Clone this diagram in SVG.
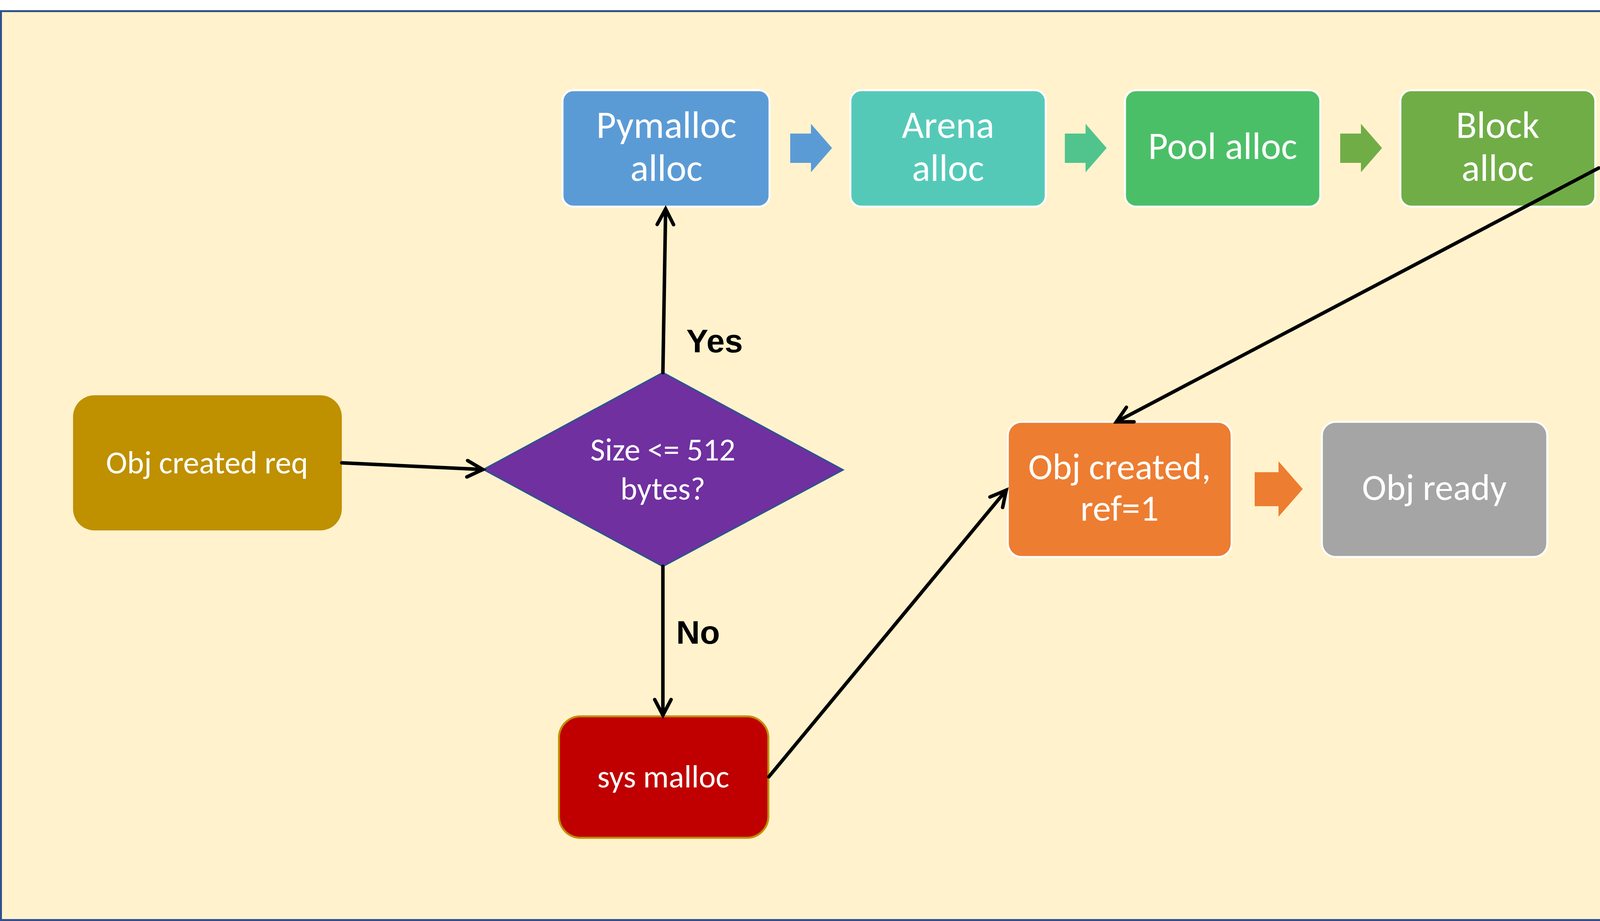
<svg xmlns="http://www.w3.org/2000/svg" width="4182" height="2358" viewBox="0 0 4182 2358">
<defs>
<style>
.t{font-family:Carlito,Calibri,Lato,"Liberation Sans",sans-serif;fill:#fff;text-anchor:middle}
.big{font-size:98px}
.mid{font-size:94px}
.sm{font-size:82px}
.lbl{font-family:"Liberation Sans",Arial,sans-serif;font-weight:bold;font-size:84px;fill:#000}
.wb{stroke:#fff;stroke-width:5}
.conn{fill:none;stroke:#000;stroke-width:9;stroke-linecap:round;marker-end:url(#ah)}
</style>
<marker id="ah" markerUnits="userSpaceOnUse" viewBox="-50 -30 60 60" refX="0" refY="0" markerWidth="60" markerHeight="60" orient="auto" overflow="visible">
<path d="M-40,-21 L0,0 L-40,21" fill="none" stroke="#000" stroke-width="9" stroke-linecap="round" stroke-linejoin="miter"/>
</marker>
</defs>
<rect x="0" y="0" width="4182" height="2358" fill="#fff"/>
<rect id="frame" x="2.5" y="28.5" width="4177" height="2327" fill="#FFF2CC" stroke="#2F528F" stroke-width="5"/>

<g id="pymalloc">
<rect x="1440" y="231" width="530" height="298" rx="28" fill="#5B9BD5" class="wb"/>
<text class="t big" x="1706" y="353">Pymalloc</text>
<text class="t big" x="1706" y="463">alloc</text>
</g>
<g id="arrow1"><path d="M2023,342 H2076 V317 L2130,379 L2076,441 V417 H2023 Z" fill="#5B9BD5"/></g>
<g id="arena">
<rect x="2177" y="231" width="500" height="298" rx="28" fill="#55C9B8" class="wb"/>
<text class="t big" x="2427" y="353">Arena</text>
<text class="t big" x="2427" y="463">alloc</text>
</g>
<g id="arrow2"><path d="M2726,342 H2779 V317 L2833,379 L2779,441 V417 H2726 Z" fill="#50C48C"/></g>
<g id="pool">
<rect x="2880" y="231" width="500" height="298" rx="28" fill="#4BBF67" class="wb"/>
<text class="t big" x="3130" y="407">Pool alloc</text>
</g>
<g id="arrow3"><path d="M3431,342 H3484 V317 L3538,379 L3484,441 V417 H3431 Z" fill="#70AD47"/></g>
<g id="block">
<rect x="3585" y="231" width="499" height="298" rx="28" fill="#70AD47" class="wb"/>
<text class="t big" x="3834" y="353">Block</text>
<text class="t big" x="3834" y="463">alloc</text>
</g>

<g id="objreq">
<rect x="187" y="1012" width="688" height="346" rx="55" fill="#BF9000"/>
<text class="t sm" x="530" y="1212">Obj created req</text>
</g>
<g id="decision">
<polygon points="1697,954 2158,1203 1697,1450 1238,1202" fill="#7030A0" stroke="#2F528F" stroke-width="4"/>
<text class="t sm" x="1697" y="1179">Size &lt;= 512</text>
<text class="t sm" x="1697" y="1279">bytes?</text>
</g>
<g id="sysmalloc">
<rect x="1431" y="1834" width="536" height="311" rx="55" fill="#C00000" stroke="#BF9000" stroke-width="5"/>
<text class="t sm" x="1698" y="2016">sys malloc</text>
</g>
<g id="objcreated">
<rect x="2580" y="1080" width="573" height="346" rx="35" fill="#ED7D31" class="wb"/>
<text class="t mid" x="2866" y="1227">Obj created,</text>
<text class="t mid" x="2866" y="1333">ref=1</text>
</g>
<g id="arrow4"><path d="M3212,1209 H3273 V1181 L3335,1252 L3273,1323 V1296 H3212 Z" fill="#ED7D31"/></g>
<g id="objready">
<rect x="3384" y="1080" width="577" height="346" rx="35" fill="#A5A5A5" class="wb"/>
<text class="t mid" x="3672" y="1280">Obj ready</text>
</g>

<g id="connectors">
<line class="conn" x1="875" y1="1185" x2="1236" y2="1202"/>
<line class="conn" x1="1697" y1="954" x2="1704" y2="535"/>
<line class="conn" x1="1697" y1="1450" x2="1697" y2="1831"/>
<line class="conn" x1="1968" y1="1989" x2="2576" y2="1255"/>
<line class="conn" x1="4093" y1="430" x2="2858" y2="1080"/>
</g>
<g id="labels">
<text class="lbl" x="1757" y="902">Yes</text>
<text class="lbl" x="1731" y="1648">No</text>
</g>
</svg>
